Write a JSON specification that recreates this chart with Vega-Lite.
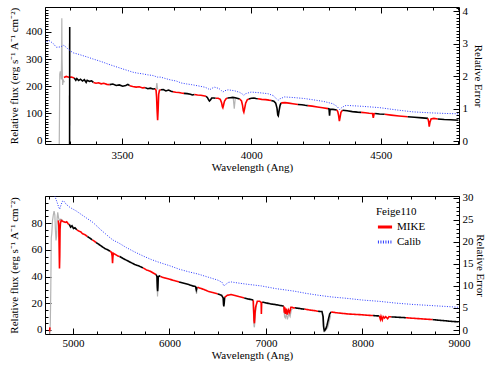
{
  "$schema": "https://vega.github.io/schema/vega-lite/v6.json",
  "padding": {"left": 7, "top": 4, "right": 0, "bottom": 2},
  "background": "white",
  "config": {
    "view": {"stroke": "black", "strokeWidth": 1},
    "font": "Liberation Serif",
    "axis": {"grid": false, "domain": false, "ticks": true, "tickColor": "black", "labelColor": "black", "titleColor": "black", "labelFont": "Liberation Serif", "titleFont": "Liberation Serif", "labelFontSize": 11, "titleFontSize": 11, "titleFontWeight": "normal", "labelOverlap": false, "labelFlush": false, "tickWidth": 1},
    "legend": {"labelFont": "Liberation Serif", "titleFont": "Liberation Serif", "labelFontSize": 11, "titleFontSize": 11, "titleFontWeight": "normal", "labelColor": "black", "titleColor": "black"}
  },
  "datasets": {
    "tg": [
      {"w":3258,"f":-12,"s":1,"o":"raw"},{"w":3259,"f":100,"s":1,"o":"raw"},{"w":3260,"f":245,"s":1,"o":"raw"},{"w":3262,"f":255,"s":1,"o":"raw"},{"w":3264,"f":248,"s":1,"o":"raw"},{"w":3266,"f":225,"s":1,"o":"raw"},{"w":3267,"f":300,"s":1,"o":"raw"},{"w":3268,"f":450,"s":1,"o":"raw"},{"w":3269,"f":300,"s":1,"o":"raw"},{"w":3271,"f":205,"s":1,"o":"raw"},{"w":3274,"f":222,"s":1,"o":"raw"},{"w":3278,"f":215,"s":1,"o":"raw"},
      {"w":3632,"f":190,"s":2,"o":"raw"},{"w":3635,"f":212,"s":2,"o":"raw"},{"w":3638,"f":188,"s":2,"o":"raw"},
      {"w":3930,"f":157,"s":3,"o":"raw"},{"w":3934,"f":118,"s":3,"o":"raw"},{"w":3938,"f":157,"s":3,"o":"raw"}
    ],
    "ts": [
      {"w":3276,"f":232,"s":1,"o":"MIKE"},{"w":3285,"f":236,"s":1,"o":"MIKE"},{"w":3295,"f":233,"s":1,"o":"MIKE"},{"w":3305,"f":234,"s":1,"o":"MIKE"},{"w":3316,"f":230,"s":1,"o":"MIKE"},
      {"w":3316,"f":230,"s":2,"o":"MIKE2"},{"w":3322,"f":222,"s":2,"o":"MIKE2"},{"w":3326,"f":228,"s":2,"o":"MIKE2"},{"w":3333,"f":221,"s":2,"o":"MIKE2"},{"w":3340,"f":226,"s":2,"o":"MIKE2"},{"w":3348,"f":219,"s":2,"o":"MIKE2"},{"w":3355,"f":224,"s":2,"o":"MIKE2"},{"w":3362,"f":214,"s":2,"o":"MIKE2"},{"w":3366,"f":222,"s":2,"o":"MIKE2"},{"w":3375,"f":218,"s":2,"o":"MIKE2"},{"w":3383,"f":220,"s":2,"o":"MIKE2"},{"w":3390,"f":214,"s":2,"o":"MIKE2"},
      {"w":3390,"f":214,"s":3,"o":"MIKE"},{"w":3400,"f":211,"s":3,"o":"MIKE"},{"w":3410,"f":213,"s":3,"o":"MIKE"},{"w":3420,"f":209,"s":3,"o":"MIKE"},{"w":3430,"f":211,"s":3,"o":"MIKE"},{"w":3442,"f":207,"s":3,"o":"MIKE"},{"w":3453,"f":206,"s":3,"o":"MIKE"},
      {"w":3453,"f":206,"s":4,"o":"MIKE2"},{"w":3465,"f":208,"s":4,"o":"MIKE2"},{"w":3478,"f":203,"s":4,"o":"MIKE2"},{"w":3490,"f":205,"s":4,"o":"MIKE2"},{"w":3503,"f":200,"s":4,"o":"MIKE2"},{"w":3515,"f":203,"s":4,"o":"MIKE2"},{"w":3523,"f":207,"s":4,"o":"MIKE2"},{"w":3530,"f":202,"s":4,"o":"MIKE2"},
      {"w":3530,"f":202,"s":5,"o":"MIKE"},{"w":3542,"f":199,"s":5,"o":"MIKE"},{"w":3555,"f":197,"s":5,"o":"MIKE"},{"w":3567,"f":198,"s":5,"o":"MIKE"},{"w":3580,"f":194,"s":5,"o":"MIKE"},{"w":3590,"f":195,"s":5,"o":"MIKE"},
      {"w":3590,"f":195,"s":6,"o":"MIKE2"},{"w":3600,"f":191,"s":6,"o":"MIKE2"},{"w":3610,"f":193,"s":6,"o":"MIKE2"},{"w":3620,"f":190,"s":6,"o":"MIKE2"},{"w":3628,"f":191,"s":6,"o":"MIKE2"},
      {"w":3628,"f":191,"s":7,"o":"MIKE"},{"w":3632,"f":185,"s":7,"o":"MIKE"},{"w":3634,"f":160,"s":7,"o":"MIKE"},{"w":3636,"f":110,"s":7,"o":"MIKE"},{"w":3638,"f":75,"s":7,"o":"MIKE"},{"w":3640,"f":115,"s":7,"o":"MIKE"},{"w":3642,"f":170,"s":7,"o":"MIKE"},{"w":3645,"f":185,"s":7,"o":"MIKE"},{"w":3650,"f":187,"s":7,"o":"MIKE"},
      {"w":3650,"f":187,"s":8,"o":"MIKE2"},{"w":3660,"f":188,"s":8,"o":"MIKE2"},{"w":3670,"f":183,"s":8,"o":"MIKE2"},{"w":3680,"f":186,"s":8,"o":"MIKE2"},{"w":3690,"f":182,"s":8,"o":"MIKE2"},{"w":3697,"f":180,"s":8,"o":"MIKE2"},
      {"w":3697,"f":180,"s":9,"o":"MIKE"},{"w":3708,"f":178,"s":9,"o":"MIKE"},{"w":3720,"f":177,"s":9,"o":"MIKE"},{"w":3730,"f":175,"s":9,"o":"MIKE"},{"w":3740,"f":174,"s":9,"o":"MIKE"},
      {"w":3740,"f":174,"s":10,"o":"MIKE2"},{"w":3752,"f":173,"s":10,"o":"MIKE2"},{"w":3765,"f":171,"s":10,"o":"MIKE2"},{"w":3772,"f":168,"s":10,"o":"MIKE2"},{"w":3780,"f":170,"s":10,"o":"MIKE2"},
      {"w":3780,"f":170,"s":11,"o":"MIKE"},{"w":3792,"f":168,"s":11,"o":"MIKE"},{"w":3805,"f":167,"s":11,"o":"MIKE"},{"w":3815,"f":165,"s":11,"o":"MIKE"},{"w":3825,"f":163,"s":11,"o":"MIKE"},
      {"w":3825,"f":163,"s":12,"o":"MIKE2"},{"w":3830,"f":159,"s":12,"o":"MIKE2"},{"w":3835,"f":150,"s":12,"o":"MIKE2"},{"w":3838,"f":146,"s":12,"o":"MIKE2"},{"w":3842,"f":150,"s":12,"o":"MIKE2"},{"w":3847,"f":157,"s":12,"o":"MIKE2"},{"w":3855,"f":157,"s":12,"o":"MIKE2"},{"w":3862,"f":156,"s":12,"o":"MIKE2"},
      {"w":3862,"f":156,"s":13,"o":"MIKE"},{"w":3872,"f":156,"s":13,"o":"MIKE"},{"w":3880,"f":152,"s":13,"o":"MIKE"},{"w":3885,"f":140,"s":13,"o":"MIKE"},{"w":3888,"f":125,"s":13,"o":"MIKE"},{"w":3890,"f":121,"s":13,"o":"MIKE"},{"w":3892,"f":128,"s":13,"o":"MIKE"},{"w":3896,"f":145,"s":13,"o":"MIKE"},{"w":3902,"f":154,"s":13,"o":"MIKE"},{"w":3908,"f":157,"s":13,"o":"MIKE"},
      {"w":3908,"f":157,"s":14,"o":"MIKE2"},{"w":3918,"f":158,"s":14,"o":"MIKE2"},{"w":3928,"f":159,"s":14,"o":"MIKE2"},{"w":3938,"f":158,"s":14,"o":"MIKE2"},{"w":3948,"f":155,"s":14,"o":"MIKE2"},{"w":3955,"f":153,"s":14,"o":"MIKE2"},
      {"w":3955,"f":153,"s":15,"o":"MIKE"},{"w":3962,"f":146,"s":15,"o":"MIKE"},{"w":3966,"f":130,"s":15,"o":"MIKE"},{"w":3969,"f":110,"s":15,"o":"MIKE"},{"w":3971,"f":105,"s":15,"o":"MIKE"},{"w":3974,"f":118,"s":15,"o":"MIKE"},{"w":3978,"f":138,"s":15,"o":"MIKE"},{"w":3984,"f":150,"s":15,"o":"MIKE"},{"w":3990,"f":153,"s":15,"o":"MIKE"},
      {"w":3990,"f":153,"s":16,"o":"MIKE2"},{"w":4000,"f":156,"s":16,"o":"MIKE2"},{"w":4010,"f":157,"s":16,"o":"MIKE2"},{"w":4018,"f":155,"s":16,"o":"MIKE2"},{"w":4025,"f":154,"s":16,"o":"MIKE2"},
      {"w":4025,"f":154,"s":17,"o":"MIKE"},{"w":4040,"f":152,"s":17,"o":"MIKE"},{"w":4055,"f":151,"s":17,"o":"MIKE"},{"w":4068,"f":149,"s":17,"o":"MIKE"},{"w":4077,"f":148,"s":17,"o":"MIKE"},
      {"w":4077,"f":148,"s":18,"o":"MIKE2"},{"w":4087,"f":145,"s":18,"o":"MIKE2"},{"w":4094,"f":138,"s":18,"o":"MIKE2"},{"w":4099,"f":120,"s":18,"o":"MIKE2"},{"w":4102,"f":95,"s":18,"o":"MIKE2"},{"w":4104,"f":92,"s":18,"o":"MIKE2"},{"w":4107,"f":110,"s":18,"o":"MIKE2"},{"w":4111,"f":130,"s":18,"o":"MIKE2"},{"w":4115,"f":139,"s":18,"o":"MIKE2"},
      {"w":4115,"f":139,"s":19,"o":"MIKE"},{"w":4130,"f":140,"s":19,"o":"MIKE"},{"w":4145,"f":138,"s":19,"o":"MIKE"},{"w":4160,"f":136,"s":19,"o":"MIKE"},{"w":4180,"f":133,"s":19,"o":"MIKE"},
      {"w":4180,"f":133,"s":20,"o":"MIKE2"},{"w":4195,"f":132,"s":20,"o":"MIKE2"},{"w":4208,"f":130,"s":20,"o":"MIKE2"},{"w":4218,"f":129,"s":20,"o":"MIKE2"},
      {"w":4218,"f":129,"s":21,"o":"MIKE"},{"w":4235,"f":127,"s":21,"o":"MIKE"},{"w":4255,"f":124,"s":21,"o":"MIKE"},{"w":4275,"f":121,"s":21,"o":"MIKE"},{"w":4296,"f":118,"s":21,"o":"MIKE"},
      {"w":4296,"f":118,"s":22,"o":"MIKE2"},{"w":4300,"f":117,"s":22,"o":"MIKE2"},{"w":4302,"f":92,"s":22,"o":"MIKE2"},{"w":4304,"f":116,"s":22,"o":"MIKE2"},{"w":4315,"f":115,"s":22,"o":"MIKE2"},{"w":4330,"f":113,"s":22,"o":"MIKE2"},
      {"w":4330,"f":113,"s":23,"o":"MIKE"},{"w":4334,"f":106,"s":23,"o":"MIKE"},{"w":4337,"f":92,"s":23,"o":"MIKE"},{"w":4340,"f":72,"s":23,"o":"MIKE"},{"w":4343,"f":88,"s":23,"o":"MIKE"},{"w":4346,"f":104,"s":23,"o":"MIKE"},{"w":4352,"f":112,"s":23,"o":"MIKE"},
      {"w":4352,"f":112,"s":24,"o":"MIKE2"},{"w":4370,"f":110,"s":24,"o":"MIKE2"},{"w":4390,"f":107,"s":24,"o":"MIKE2"},{"w":4410,"f":105,"s":24,"o":"MIKE2"},{"w":4424,"f":104,"s":24,"o":"MIKE2"},
      {"w":4424,"f":104,"s":25,"o":"MIKE"},{"w":4440,"f":103,"s":25,"o":"MIKE"},{"w":4455,"f":101,"s":25,"o":"MIKE"},{"w":4468,"f":100,"s":25,"o":"MIKE"},{"w":4471,"f":84,"s":25,"o":"MIKE"},{"w":4474,"f":99,"s":25,"o":"MIKE"},{"w":4478,"f":100,"s":25,"o":"MIKE"},
      {"w":4478,"f":100,"s":26,"o":"MIKE2"},{"w":4495,"f":98,"s":26,"o":"MIKE2"},{"w":4515,"f":97,"s":26,"o":"MIKE2"},
      {"w":4515,"f":97,"s":27,"o":"MIKE"},{"w":4540,"f":94,"s":27,"o":"MIKE"},{"w":4570,"f":91,"s":27,"o":"MIKE"},{"w":4604,"f":88,"s":27,"o":"MIKE"},
      {"w":4604,"f":88,"s":28,"o":"MIKE2"},{"w":4630,"f":86,"s":28,"o":"MIKE2"},{"w":4660,"f":84,"s":28,"o":"MIKE2"},{"w":4682,"f":82,"s":28,"o":"MIKE2"},
      {"w":4682,"f":82,"s":29,"o":"MIKE"},{"w":4685,"f":68,"s":29,"o":"MIKE"},{"w":4687,"f":52,"s":29,"o":"MIKE"},{"w":4690,"f":68,"s":29,"o":"MIKE"},{"w":4694,"f":80,"s":29,"o":"MIKE"},{"w":4705,"f":82,"s":29,"o":"MIKE"},{"w":4720,"f":80,"s":29,"o":"MIKE"},
      {"w":4720,"f":80,"s":30,"o":"MIKE2"},{"w":4745,"f":78,"s":30,"o":"MIKE2"},{"w":4770,"f":77,"s":30,"o":"MIKE2"},{"w":4800,"f":75,"s":30,"o":"MIKE2"},
      {"w":3298,"f":-12,"s":31,"o":"MIKE2"},{"w":3298.5,"f":418,"s":31,"o":"MIKE2"}
    ],
    "tc": [
      {"w":3200,"e":3.04},{"w":3221,"e":3.09},{"w":3235,"e":3.0},{"w":3247,"e":2.89},{"w":3262,"e":2.9},{"w":3276,"e":2.95},{"w":3290,"e":2.85},{"w":3311,"e":2.72},{"w":3330,"e":2.68},{"w":3350,"e":2.63},{"w":3370,"e":2.58},{"w":3388,"e":2.53},{"w":3408,"e":2.48},{"w":3427,"e":2.43},{"w":3447,"e":2.37},{"w":3466,"e":2.32},{"w":3485,"e":2.27},{"w":3504,"e":2.22},{"w":3524,"e":2.17},{"w":3543,"e":2.12},{"w":3562,"e":2.09},{"w":3581,"e":2.07},{"w":3600,"e":2.04},{"w":3620,"e":2.02},{"w":3637,"e":1.97},{"w":3650,"e":1.97},{"w":3671,"e":1.92},{"w":3690,"e":1.88},{"w":3710,"e":1.85},{"w":3729,"e":1.79},{"w":3750,"e":1.76},{"w":3768,"e":1.74},{"w":3795,"e":1.7},{"w":3820,"e":1.66},{"w":3832,"e":1.62},{"w":3839,"e":1.58},{"w":3846,"e":1.62},{"w":3858,"e":1.66},{"w":3875,"e":1.62},{"w":3885,"e":1.55},{"w":3890,"e":1.51},{"w":3897,"e":1.55},{"w":3910,"e":1.58},{"w":3935,"e":1.55},{"w":3955,"e":1.5},{"w":3965,"e":1.45},{"w":3971,"e":1.41},{"w":3978,"e":1.46},{"w":3999,"e":1.51},{"w":4030,"e":1.49},{"w":4064,"e":1.46},{"w":4085,"e":1.4},{"w":4097,"e":1.3},{"w":4103,"e":1.25},{"w":4110,"e":1.3},{"w":4128,"e":1.36},{"w":4165,"e":1.34},{"w":4206,"e":1.31},{"w":4240,"e":1.27},{"w":4280,"e":1.22},{"w":4315,"e":1.15},{"w":4332,"e":1.06},{"w":4341,"e":0.97},{"w":4350,"e":1.04},{"w":4366,"e":1.1},{"w":4430,"e":1.07},{"w":4495,"e":1.03},{"w":4560,"e":0.96},{"w":4624,"e":0.9},{"w":4690,"e":0.87},{"w":4752,"e":0.85},{"w":4800,"e":0.84}
    ],
    "bg": [
      {"w":4760,"f":-3,"s":1,"o":"raw"},{"w":4765,"f":5,"s":1,"o":"raw"},{"w":4770,"f":30,"s":1,"o":"raw"},{"w":4775,"f":69,"s":1,"o":"raw"},{"w":4780,"f":72,"s":1,"o":"raw"},{"w":4788,"f":82,"s":1,"o":"raw"},{"w":4796,"f":86,"s":1,"o":"raw"},{"w":4804,"f":89,"s":1,"o":"raw"},{"w":4812,"f":86,"s":1,"o":"raw"},{"w":4818,"f":75,"s":1,"o":"raw"},{"w":4824,"f":67,"s":1,"o":"raw"},{"w":4830,"f":70,"s":1,"o":"raw"},{"w":4836,"f":84,"s":1,"o":"raw"},{"w":4842,"f":88,"s":1,"o":"raw"},{"w":4850,"f":84,"s":1,"o":"raw"},{"w":4860,"f":82,"s":1,"o":"raw"},{"w":4875,"f":83,"s":1,"o":"raw"},{"w":4895,"f":82,"s":1,"o":"raw"},
      {"w":5870,"f":38,"s":2,"o":"raw"},{"w":5876,"f":25,"s":2,"o":"raw"},{"w":5882,"f":38,"s":2,"o":"raw"},
      {"w":6274,"f":31,"s":3,"o":"raw"},{"w":6280,"f":27,"s":3,"o":"raw"},{"w":6286,"f":31,"s":3,"o":"raw"},
      {"w":6866,"f":22,"s":4,"o":"raw"},{"w":6872,"f":10,"s":4,"o":"raw"},{"w":6876,"f":3,"s":4,"o":"raw"},{"w":6880,"f":2,"s":4,"o":"raw"},{"w":6886,"f":8,"s":4,"o":"raw"},{"w":6892,"f":14,"s":4,"o":"raw"},{"w":6900,"f":18,"s":4,"o":"raw"},
      {"w":7186,"f":17,"s":5,"o":"raw"},{"w":7192,"f":10,"s":5,"o":"raw"},{"w":7200,"f":9,"s":5,"o":"raw"},{"w":7210,"f":12,"s":5,"o":"raw"},{"w":7222,"f":8,"s":5,"o":"raw"},{"w":7235,"f":12,"s":5,"o":"raw"},{"w":7250,"f":10,"s":5,"o":"raw"},{"w":7262,"f":15,"s":5,"o":"raw"},{"w":7275,"f":16,"s":5,"o":"raw"},
      {"w":7585,"f":12,"s":6,"o":"raw"},{"w":7592,"f":3,"s":6,"o":"raw"},{"w":7610,"f":-1,"s":6,"o":"raw"},{"w":7640,"f":2,"s":6,"o":"raw"},{"w":7670,"f":11,"s":6,"o":"raw"}
    ],
    "bs": [
      {"w":4757,"f":-1,"s":0,"o":"MIKE"},{"w":4761,"f":2,"s":0,"o":"MIKE"},
      {"w":4848,"f":82,"s":1,"o":"MIKE"},{"w":4853,"f":78,"s":1,"o":"MIKE"},{"w":4857,"f":60,"s":1,"o":"MIKE"},{"w":4860,"f":46,"s":1,"o":"MIKE"},{"w":4863,"f":55,"s":1,"o":"MIKE"},{"w":4866,"f":75,"s":1,"o":"MIKE"},{"w":4870,"f":80,"s":1,"o":"MIKE"},{"w":4878,"f":82,"s":1,"o":"MIKE"},{"w":4890,"f":81.5,"s":1,"o":"MIKE"},{"w":4905,"f":81,"s":1,"o":"MIKE"},{"w":4920,"f":80.5,"s":1,"o":"MIKE"},{"w":4935,"f":81,"s":1,"o":"MIKE"},{"w":4950,"f":79.5,"s":1,"o":"MIKE"},{"w":4962,"f":79,"s":1,"o":"MIKE"},
      {"w":4962,"f":79,"s":2,"o":"MIKE2"},{"w":4975,"f":77,"s":2,"o":"MIKE2"},{"w":4990,"f":78,"s":2,"o":"MIKE2"},{"w":5005,"f":76,"s":2,"o":"MIKE2"},{"w":5020,"f":76.5,"s":2,"o":"MIKE2"},{"w":5040,"f":75,"s":2,"o":"MIKE2"},
      {"w":5040,"f":75,"s":3,"o":"MIKE"},{"w":5060,"f":74,"s":3,"o":"MIKE"},{"w":5080,"f":73.5,"s":3,"o":"MIKE"},{"w":5100,"f":72,"s":3,"o":"MIKE"},{"w":5120,"f":71.5,"s":3,"o":"MIKE"},{"w":5150,"f":70,"s":3,"o":"MIKE"},
      {"w":5150,"f":70,"s":4,"o":"MIKE2"},{"w":5170,"f":69,"s":4,"o":"MIKE2"},{"w":5200,"f":67.5,"s":4,"o":"MIKE2"},
      {"w":5200,"f":67.5,"s":5,"o":"MIKE"},{"w":5220,"f":66.5,"s":5,"o":"MIKE"},{"w":5240,"f":65.5,"s":5,"o":"MIKE"},
      {"w":5240,"f":65.5,"s":6,"o":"MIKE2"},{"w":5270,"f":64,"s":6,"o":"MIKE2"},{"w":5300,"f":62.5,"s":6,"o":"MIKE2"},{"w":5330,"f":61,"s":6,"o":"MIKE2"},{"w":5360,"f":60,"s":6,"o":"MIKE2"},{"w":5385,"f":59,"s":6,"o":"MIKE2"},
      {"w":5385,"f":59,"s":7,"o":"MIKE"},{"w":5400,"f":58,"s":7,"o":"MIKE"},{"w":5406,"f":55,"s":7,"o":"MIKE"},{"w":5410,"f":50,"s":7,"o":"MIKE"},{"w":5413,"f":54,"s":7,"o":"MIKE"},{"w":5418,"f":57.5,"s":7,"o":"MIKE"},{"w":5440,"f":56.5,"s":7,"o":"MIKE"},{"w":5462,"f":55.5,"s":7,"o":"MIKE"},{"w":5484,"f":55,"s":7,"o":"MIKE"},
      {"w":5484,"f":55,"s":8,"o":"MIKE2"},{"w":5520,"f":53.5,"s":8,"o":"MIKE2"},{"w":5560,"f":52,"s":8,"o":"MIKE2"},{"w":5600,"f":50.5,"s":8,"o":"MIKE2"},{"w":5640,"f":49,"s":8,"o":"MIKE2"},{"w":5680,"f":48,"s":8,"o":"MIKE2"},{"w":5726,"f":46.5,"s":8,"o":"MIKE2"},
      {"w":5726,"f":46.5,"s":9,"o":"MIKE"},{"w":5760,"f":45,"s":9,"o":"MIKE"},{"w":5800,"f":44,"s":9,"o":"MIKE"},{"w":5835,"f":42.5,"s":9,"o":"MIKE"},{"w":5862,"f":41.5,"s":9,"o":"MIKE"},
      {"w":5862,"f":41.5,"s":10,"o":"MIKE2"},{"w":5870,"f":40,"s":10,"o":"MIKE2"},{"w":5874,"f":32,"s":10,"o":"MIKE2"},{"w":5877,"f":29,"s":10,"o":"MIKE2"},{"w":5880,"f":32,"s":10,"o":"MIKE2"},{"w":5884,"f":40,"s":10,"o":"MIKE2"},{"w":5895,"f":40.5,"s":10,"o":"MIKE2"},{"w":5905,"f":40,"s":10,"o":"MIKE2"},
      {"w":5905,"f":40,"s":11,"o":"MIKE"},{"w":5950,"f":39,"s":11,"o":"MIKE"},{"w":6000,"f":38,"s":11,"o":"MIKE"},{"w":6050,"f":37,"s":11,"o":"MIKE"},{"w":6100,"f":36,"s":11,"o":"MIKE"},
      {"w":6100,"f":36,"s":12,"o":"MIKE2"},{"w":6150,"f":35,"s":12,"o":"MIKE2"},{"w":6200,"f":34,"s":12,"o":"MIKE2"},{"w":6240,"f":33,"s":12,"o":"MIKE2"},{"w":6270,"f":32.5,"s":12,"o":"MIKE2"},{"w":6278,"f":30,"s":12,"o":"MIKE2"},{"w":6284,"f":31.5,"s":12,"o":"MIKE2"},{"w":6290,"f":32,"s":12,"o":"MIKE2"},
      {"w":6290,"f":32,"s":13,"o":"MIKE"},{"w":6350,"f":30.5,"s":13,"o":"MIKE"},{"w":6400,"f":29,"s":13,"o":"MIKE"},{"w":6450,"f":28,"s":13,"o":"MIKE"},{"w":6500,"f":27,"s":13,"o":"MIKE"},
      {"w":6500,"f":27,"s":14,"o":"MIKE2"},{"w":6540,"f":26,"s":14,"o":"MIKE2"},{"w":6556,"f":24,"s":14,"o":"MIKE2"},{"w":6560,"f":19,"s":14,"o":"MIKE2"},{"w":6563,"f":17.6,"s":14,"o":"MIKE2"},{"w":6567,"f":20,"s":14,"o":"MIKE2"},{"w":6572,"f":24.5,"s":14,"o":"MIKE2"},
      {"w":6572,"f":24.5,"s":15,"o":"MIKE"},{"w":6600,"f":26,"s":15,"o":"MIKE"},{"w":6640,"f":26.5,"s":15,"o":"MIKE"},{"w":6680,"f":25.8,"s":15,"o":"MIKE"},{"w":6720,"f":25,"s":15,"o":"MIKE"},{"w":6775,"f":24,"s":15,"o":"MIKE"},
      {"w":6775,"f":24,"s":16,"o":"MIKE2"},{"w":6810,"f":23.3,"s":16,"o":"MIKE2"},{"w":6845,"f":22.8,"s":16,"o":"MIKE2"},{"w":6868,"f":22.3,"s":16,"o":"MIKE2"},
      {"w":6868,"f":22.3,"s":17,"o":"MIKE"},{"w":6872,"f":15,"s":17,"o":"MIKE"},{"w":6876,"f":7,"s":17,"o":"MIKE"},{"w":6880,"f":5,"s":17,"o":"MIKE"},{"w":6886,"f":12,"s":17,"o":"MIKE"},{"w":6892,"f":17,"s":17,"o":"MIKE"},{"w":6900,"f":19,"s":17,"o":"MIKE"},{"w":6910,"f":21.5,"s":17,"o":"MIKE"},{"w":6935,"f":21.5,"s":17,"o":"MIKE"},{"w":6950,"f":20.5,"s":17,"o":"MIKE"},{"w":6952,"f":12,"s":17,"o":"MIKE"},{"w":6955,"f":20,"s":17,"o":"MIKE"},{"w":6962,"f":21,"s":17,"o":"MIKE"},
      {"w":6962,"f":21,"s":18,"o":"MIKE2"},{"w":7000,"f":20.3,"s":18,"o":"MIKE2"},{"w":7050,"f":19.5,"s":18,"o":"MIKE2"},{"w":7100,"f":19,"s":18,"o":"MIKE2"},{"w":7150,"f":18.3,"s":18,"o":"MIKE2"},{"w":7185,"f":17.8,"s":18,"o":"MIKE2"},
      {"w":7185,"f":17.8,"s":19,"o":"MIKE"},{"w":7190,"f":13,"s":19,"o":"MIKE"},{"w":7195,"f":17,"s":19,"o":"MIKE"},{"w":7200,"f":12,"s":19,"o":"MIKE"},{"w":7210,"f":16,"s":19,"o":"MIKE"},{"w":7220,"f":11.5,"s":19,"o":"MIKE"},{"w":7232,"f":15,"s":19,"o":"MIKE"},{"w":7245,"f":13,"s":19,"o":"MIKE"},{"w":7258,"f":17,"s":19,"o":"MIKE"},{"w":7270,"f":17,"s":19,"o":"MIKE"},{"w":7285,"f":16.5,"s":19,"o":"MIKE"},{"w":7300,"f":16.6,"s":19,"o":"MIKE"},
      {"w":7300,"f":16.6,"s":20,"o":"MIKE2"},{"w":7340,"f":16.2,"s":20,"o":"MIKE2"},{"w":7370,"f":15.8,"s":20,"o":"MIKE2"},{"w":7400,"f":15.6,"s":20,"o":"MIKE2"},
      {"w":7400,"f":15.6,"s":21,"o":"MIKE"},{"w":7450,"f":15,"s":21,"o":"MIKE"},{"w":7500,"f":14.5,"s":21,"o":"MIKE"},{"w":7540,"f":14,"s":21,"o":"MIKE"},
      {"w":7540,"f":14,"s":22,"o":"MIKE2"},{"w":7580,"f":13.8,"s":22,"o":"MIKE2"},{"w":7592,"f":10,"s":22,"o":"MIKE2"},{"w":7598,"f":2,"s":22,"o":"MIKE2"},{"w":7604,"f":-0.5,"s":22,"o":"MIKE2"},{"w":7612,"f":0,"s":22,"o":"MIKE2"},{"w":7620,"f":1,"s":22,"o":"MIKE2"},{"w":7630,"f":3,"s":22,"o":"MIKE2"},{"w":7640,"f":6,"s":22,"o":"MIKE2"},{"w":7650,"f":9,"s":22,"o":"MIKE2"},{"w":7660,"f":12,"s":22,"o":"MIKE2"},{"w":7675,"f":13.5,"s":22,"o":"MIKE2"},
      {"w":7675,"f":13.5,"s":23,"o":"MIKE"},{"w":7720,"f":13,"s":23,"o":"MIKE"},{"w":7780,"f":12.5,"s":23,"o":"MIKE"},{"w":7850,"f":12,"s":23,"o":"MIKE"},{"w":7920,"f":11.7,"s":23,"o":"MIKE"},{"w":7990,"f":11.4,"s":23,"o":"MIKE"},{"w":8060,"f":11,"s":23,"o":"MIKE"},{"w":8110,"f":10.8,"s":23,"o":"MIKE"},
      {"w":8110,"f":10.8,"s":24,"o":"MIKE2"},{"w":8150,"f":10.6,"s":24,"o":"MIKE2"},{"w":8175,"f":10.5,"s":24,"o":"MIKE2"},
      {"w":8175,"f":10.5,"s":25,"o":"MIKE"},{"w":8185,"f":8,"s":25,"o":"MIKE"},{"w":8192,"f":10.2,"s":25,"o":"MIKE"},{"w":8205,"f":7.5,"s":25,"o":"MIKE"},{"w":8215,"f":10,"s":25,"o":"MIKE"},{"w":8228,"f":9,"s":25,"o":"MIKE"},{"w":8240,"f":10,"s":25,"o":"MIKE"},{"w":8260,"f":8.5,"s":25,"o":"MIKE"},{"w":8275,"f":10,"s":25,"o":"MIKE"},{"w":8300,"f":9.8,"s":25,"o":"MIKE"},
      {"w":8300,"f":9.8,"s":26,"o":"MIKE2"},{"w":8350,"f":9.6,"s":26,"o":"MIKE2"},{"w":8400,"f":9.4,"s":26,"o":"MIKE2"},{"w":8450,"f":9.2,"s":26,"o":"MIKE2"},
      {"w":8450,"f":9.2,"s":27,"o":"MIKE"},{"w":8500,"f":8.9,"s":27,"o":"MIKE"},{"w":8560,"f":8.6,"s":27,"o":"MIKE"},{"w":8620,"f":8.3,"s":27,"o":"MIKE"},{"w":8680,"f":8.0,"s":27,"o":"MIKE"},{"w":8726,"f":7.8,"s":27,"o":"MIKE"},
      {"w":8726,"f":7.8,"s":28,"o":"MIKE2"},{"w":8780,"f":7.4,"s":28,"o":"MIKE2"},{"w":8840,"f":7.0,"s":28,"o":"MIKE2"},{"w":8900,"f":6.6,"s":28,"o":"MIKE2"},{"w":8950,"f":6.3,"s":28,"o":"MIKE2"},{"w":8995,"f":6.1,"s":28,"o":"MIKE2"}
    ],
    "bc": [
      {"w":4750,"e":33},{"w":4790,"e":31.5},{"w":4810,"e":30.5},{"w":4835,"e":29},{"w":4850,"e":28},{"w":4862,"e":27.4},{"w":4875,"e":28.3},{"w":4890,"e":29.2},{"w":4904,"e":29.3},{"w":4930,"e":28.5},{"w":4970,"e":27.8},{"w":5034,"e":27.0},{"w":5120,"e":25.7},{"w":5207,"e":24.4},{"w":5290,"e":22.7},{"w":5380,"e":21.0},{"w":5415,"e":20.4},{"w":5470,"e":19.8},{"w":5553,"e":18.7},{"w":5640,"e":17.7},{"w":5726,"e":16.8},{"w":5810,"e":16.0},{"w":5899,"e":15.3},{"w":6000,"e":14.6},{"w":6100,"e":13.8},{"w":6200,"e":13.2},{"w":6296,"e":12.7},{"w":6400,"e":12.0},{"w":6503,"e":11.3},{"w":6545,"e":10.8},{"w":6565,"e":10.0},{"w":6580,"e":10.3},{"w":6610,"e":10.8},{"w":6641,"e":10.9},{"w":6700,"e":10.7},{"w":6800,"e":10.4},{"w":6952,"e":10.0},{"w":7100,"e":9.4},{"w":7298,"e":8.8},{"w":7420,"e":8.3},{"w":7539,"e":7.9},{"w":7680,"e":7.5},{"w":7832,"e":7.2},{"w":8000,"e":6.8},{"w":8178,"e":6.5},{"w":8350,"e":6.1},{"w":8524,"e":5.8},{"w":8750,"e":5.5},{"w":8972,"e":5.2},{"w":9000,"e":5.15}
    ]
  },
  "vconcat": [
    {
      "width": 414,
      "height": 137,
      "resolve": {"scale": {"y": "independent"}, "axis": {"x": "independent", "y": "independent"}},
      "layer": [
        {
          "resolve": {"axis": {"x": "independent", "y": "independent"}},
          "layer": [
            {
              "data": {"name": "tg"},
              "mark": {"type": "line", "clip": true, "strokeWidth": 1.2},
              "encoding": {
                "x": {"field": "w", "type": "quantitative", "scale": {"domain": [3203, 4802], "nice": false, "zero": false},
                  "axis": {"orient": "bottom", "title": "Wavelength (Ang)", "values": [3500, 4000, 4500], "format": "d", "labelOverlap": false, "titleFontWeight": "normal", "tickSize": -6, "labelPadding": 11, "titlePadding": 1}},
                "y": {"field": "f", "type": "quantitative", "scale": {"domain": [-12, 491], "nice": false, "zero": false},
                  "axis": {"orient": "left", "title": "Relative flux (erg s⁻¹ A⁻¹ cm⁻²)", "values": [0, 100, 200, 300, 400], "format": "d", "labelOverlap": false, "titleFontWeight": "normal", "tickSize": -6, "labelPadding": 9, "titlePadding": 6}},
                "detail": {"field": "s"},
                "color": {"field": "o", "type": "nominal", "scale": {"domain": ["MIKE", "MIKE2", "raw", "Calib"], "range": ["#ff0000", "#000000", "#b4b4b4", "#2b3bff"]}, "legend": null}
              }
            },
            {
              "data": {"name": "ts"},
              "mark": {"type": "line", "clip": true, "strokeWidth": 1.6},
              "encoding": {
                "x": {"field": "w", "type": "quantitative",
                  "axis": {"orient": "bottom", "title": null, "labels": false, "values": [3300,3400,3600,3700,3800,3900,4100,4200,4300,4400,4600,4700,4800], "tickSize": -3}},
                "y": {"field": "f", "type": "quantitative",
                  "axis": {"orient": "left", "title": null, "labels": false, "values": [10,20,30,40,50,60,70,80,90,110,120,130,140,150,160,170,180,190,210,220,230,240,250,260,270,280,290,310,320,330,340,350,360,370,380,390,410,420,430,440,450,460,470,480,490], "tickSize": -3}},
                "detail": {"field": "s"},
                "color": {"field": "o", "type": "nominal", "legend": null}
              }
            }
          ]
        },
        {
          "resolve": {"axis": {"x": "independent", "y": "independent"}},
          "layer": [
            {
              "data": {"name": "tc"},
              "mark": {"type": "line", "clip": true, "strokeWidth": 1, "strokeDash": [1, 1.5], "color": "#2b3bff"},
              "encoding": {
                "x": {"field": "w", "type": "quantitative",
                  "axis": {"orient": "top", "title": null, "labels": false, "values": [3500, 4000, 4500], "tickSize": -6}},
                "y": {"field": "e", "type": "quantitative", "scale": {"domain": [-0.09, 4.13], "nice": false, "zero": false},
                  "axis": {"orient": "right", "title": "Relative Error", "values": [0, 1, 2, 3, 4], "format": "d", "labelOverlap": false, "titleFontWeight": "normal", "tickSize": -6, "labelPadding": 9, "titlePadding": 5}}
              }
            },
            {
              "data": {"name": "tc"},
              "mark": {"type": "line", "clip": true, "strokeWidth": 1, "opacity": 0},
              "encoding": {
                "x": {"field": "w", "type": "quantitative",
                  "axis": {"orient": "top", "title": null, "labels": false, "values": [3300,3400,3600,3700,3800,3900,4100,4200,4300,4400,4600,4700,4800], "tickSize": -3}},
                "y": {"field": "e", "type": "quantitative",
                  "axis": {"orient": "right", "title": null, "labels": false, "values": [0.1,0.2,0.3,0.4,0.5,0.6,0.7,0.8,0.9,1.1,1.2,1.3,1.4,1.5,1.6,1.7,1.8,1.9,2.1,2.2,2.3,2.4,2.5,2.6,2.7,2.8,2.9,3.1,3.2,3.3,3.4,3.5,3.6,3.7,3.8,3.9,4.1], "tickSize": -3}}
              }
            }
          ]
        }
      ]
    },
    {
      "width": 414,
      "height": 138,
      "resolve": {"scale": {"y": "independent"}, "axis": {"x": "independent", "y": "independent"}},
      "layer": [
        {
          "resolve": {"axis": {"x": "independent", "y": "independent"}},
          "layer": [
            {
              "data": {"name": "bg"},
              "mark": {"type": "line", "clip": true, "strokeWidth": 1.2},
              "encoding": {
                "x": {"field": "w", "type": "quantitative", "scale": {"domain": [4710, 9000], "nice": false, "zero": false},
                  "axis": {"orient": "bottom", "title": "Wavelength (Ang)", "values": [5000, 6000, 7000, 8000, 9000], "format": "d", "labelOverlap": false, "titleFontWeight": "normal", "tickSize": -6, "labelPadding": 9, "titlePadding": 1}},
                "y": {"field": "f", "type": "quantitative", "scale": {"domain": [-3, 100.3], "nice": false, "zero": false},
                  "axis": {"orient": "left", "title": "Relative flux (erg s⁻¹ A⁻¹ cm⁻²)", "values": [0, 20, 40, 60, 80], "format": "d", "labelOverlap": false, "titleFontWeight": "normal", "tickSize": -6, "labelPadding": 9, "titlePadding": 12}},
                "detail": {"field": "s"},
                "color": {"field": "o", "type": "nominal", "scale": {"domain": ["MIKE", "MIKE2", "raw", "Calib"], "range": ["#ff0000", "#000000", "#b4b4b4", "#2b3bff"]},
                  "legend": {"title": "Feige110", "values": ["MIKE", "Calib"], "orient": "none", "legendX": 331, "legendY": 10, "symbolType": "stroke", "symbolStrokeWidth": 3, "symbolSize": 200, "rowPadding": 0, "titlePadding": 1, "labelOffset": 3, "titleFontWeight": "normal"}},
                "strokeDash": {"field": "o", "type": "nominal", "scale": {"domain": ["MIKE", "MIKE2", "raw", "Calib"], "range": [[1, 0], [1, 0], [1, 0], [1, 1.5]]},
                  "legend": {"title": "Feige110", "values": ["MIKE", "Calib"], "orient": "none", "legendX": 331, "legendY": 10, "symbolType": "stroke", "symbolStrokeWidth": 3, "symbolSize": 200, "rowPadding": 0, "titlePadding": 1, "labelOffset": 3, "titleFontWeight": "normal"}}
              }
            },
            {
              "data": {"name": "bs"},
              "mark": {"type": "line", "clip": true, "strokeWidth": 1.6},
              "encoding": {
                "x": {"field": "w", "type": "quantitative",
                  "axis": {"orient": "bottom", "title": null, "labels": false, "values": [4750,5250,5500,5750,6250,6500,6750,7250,7500,7750,8250,8500,8750], "tickSize": -3}},
                "y": {"field": "f", "type": "quantitative",
                  "axis": {"orient": "left", "title": null, "labels": false, "values": [5,10,15,25,30,35,45,50,55,65,70,75,85,90,95,100], "tickSize": -3}},
                "detail": {"field": "s"},
                "color": {"field": "o", "type": "nominal"},
                "strokeDash": {"field": "o", "type": "nominal"}
              }
            }
          ]
        },
        {
          "resolve": {"axis": {"x": "independent", "y": "independent"}},
          "layer": [
            {
              "data": {"name": "bc"},
              "mark": {"type": "line", "clip": true, "strokeWidth": 1},
              "encoding": {
                "x": {"field": "w", "type": "quantitative",
                  "axis": {"orient": "top", "title": null, "labels": false, "values": [5000, 6000, 7000, 8000, 9000], "tickSize": -6}},
                "y": {"field": "e", "type": "quantitative", "scale": {"domain": [-0.9, 30.4], "nice": false, "zero": false},
                  "axis": {"orient": "right", "title": "Relative Error", "values": [0, 5, 10, 15, 20, 25, 30], "format": "d", "labelOverlap": false, "titleFontWeight": "normal", "tickSize": -6, "labelPadding": 9, "titlePadding": 1}},
                "color": {"datum": "Calib", "type": "nominal"},
                "strokeDash": {"datum": "Calib", "type": "nominal"}
              }
            },
            {
              "data": {"name": "bc"},
              "mark": {"type": "line", "clip": true, "strokeWidth": 1, "opacity": 0},
              "encoding": {
                "x": {"field": "w", "type": "quantitative",
                  "axis": {"orient": "top", "title": null, "labels": false, "values": [4750,5250,5500,5750,6250,6500,6750,7250,7500,7750,8250,8500,8750], "tickSize": -3}},
                "y": {"field": "e", "type": "quantitative",
                  "axis": {"orient": "right", "title": null, "labels": false, "values": [1,2,3,4,6,7,8,9,11,12,13,14,16,17,18,19,21,22,23,24,26,27,28,29], "tickSize": -3}}
              }
            }
          ]
        }
      ]
    }
  ],
  "spacing": 18,
  "resolve": {"scale": {"color": "independent", "strokeDash": "independent"}}
}
